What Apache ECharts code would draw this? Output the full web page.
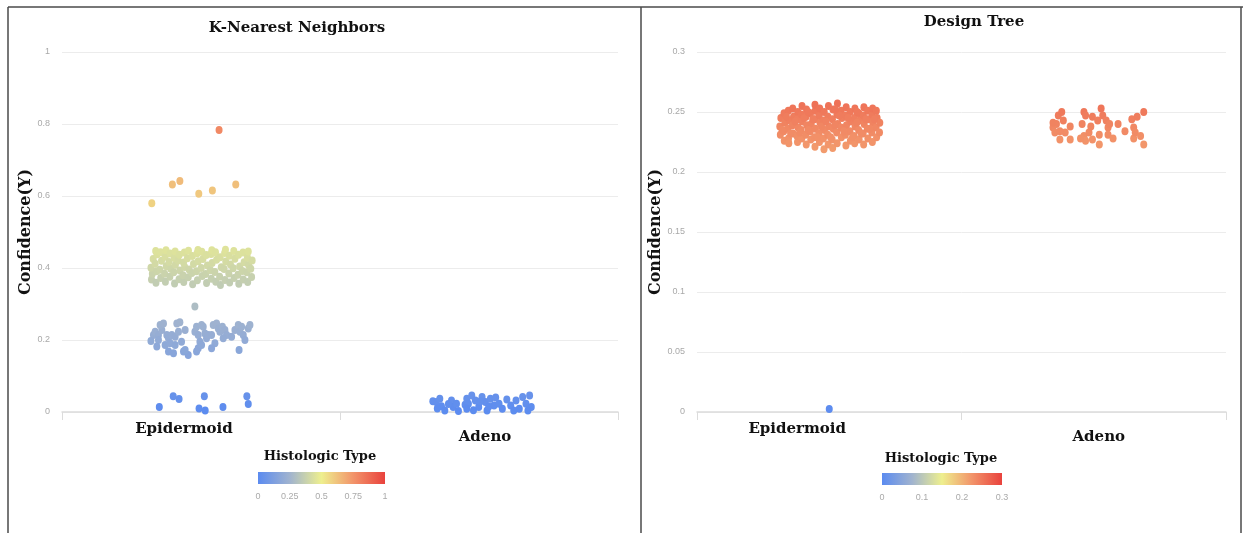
<!DOCTYPE html>
<html>
<head>
<meta charset="utf-8">
<script src="https://cdn.jsdelivr.net/npm/echarts@6/dist/echarts.min.js"></script>
<style>
  html, body { margin: 0; padding: 0; background: #fff; }
  #chart { width: 1243px; height: 533px; }
</style>
</head>
<body>
<div id="chart"></div>
<script>
const categories = ['Epidermoid', 'Adeno'];
const knnLegendTicks = [0, 0.25, 0.5, 0.75, 1];
const treeLegendTicks = [0, 0.1, 0.2, 0.3];

// Each point: [horizontal jitter inside the category band, confidence]
const knnEpidermoid = [
  // top outlier and the 0.6 group
  [0.065, 0.783],
  [-0.177, 0.580], [-0.103, 0.632], [-0.076, 0.642], [-0.008, 0.606], [0.041, 0.615], [0.125, 0.632],
  // 0.4 band
  [-0.178, 0.368], [-0.175, 0.384], [-0.180, 0.401], [-0.172, 0.425],
  [-0.162, 0.359], [-0.160, 0.391], [-0.165, 0.412], [-0.158, 0.438], [-0.163, 0.447],
  [-0.145, 0.372], [-0.148, 0.395], [-0.142, 0.420], [-0.146, 0.444],
  [-0.128, 0.362], [-0.131, 0.384], [-0.125, 0.405], [-0.129, 0.431], [-0.126, 0.449],
  [-0.112, 0.376], [-0.109, 0.398], [-0.115, 0.417], [-0.111, 0.440],
  [-0.095, 0.357], [-0.098, 0.388], [-0.092, 0.409], [-0.096, 0.428], [-0.093, 0.446],
  [-0.079, 0.369], [-0.076, 0.393], [-0.082, 0.421], [-0.078, 0.437],
  [-0.062, 0.361], [-0.065, 0.380], [-0.059, 0.403], [-0.063, 0.415], [-0.060, 0.443],
  [-0.046, 0.374], [-0.043, 0.396], [-0.049, 0.427], [-0.045, 0.448],
  [-0.030, 0.355], [-0.033, 0.386], [-0.027, 0.411], [-0.031, 0.433],
  [-0.013, 0.366], [-0.016, 0.391], [-0.010, 0.419], [-0.014, 0.441], [-0.011, 0.450],
  [0.004, 0.378], [0.001, 0.400], [0.007, 0.425], [0.003, 0.445],
  [0.020, 0.358], [0.017, 0.383], [0.023, 0.407], [0.019, 0.436],
  [0.037, 0.370], [0.034, 0.394], [0.040, 0.414], [0.036, 0.439], [0.039, 0.449],
  [0.053, 0.362], [0.050, 0.389], [0.056, 0.423], [0.052, 0.444],
  [0.070, 0.353], [0.067, 0.376], [0.073, 0.402], [0.069, 0.430],
  [0.086, 0.367], [0.083, 0.397], [0.089, 0.418], [0.085, 0.442], [0.088, 0.451],
  [0.103, 0.360], [0.100, 0.385], [0.106, 0.410], [0.102, 0.434],
  [0.119, 0.372], [0.116, 0.399], [0.122, 0.426], [0.118, 0.447],
  [0.136, 0.356], [0.133, 0.381], [0.139, 0.404], [0.135, 0.437],
  [0.152, 0.368], [0.149, 0.392], [0.155, 0.416], [0.151, 0.443],
  [0.168, 0.361], [0.165, 0.388], [0.171, 0.408], [0.167, 0.429], [0.170, 0.446],
  [0.182, 0.375], [0.179, 0.398], [0.184, 0.421],
  // 0.2 band
  [-0.022, 0.293],
  [-0.171, 0.214], [-0.180, 0.197], [-0.165, 0.223], [-0.153, 0.214], [-0.141, 0.228],
  [-0.147, 0.242], [-0.135, 0.246], [-0.123, 0.214], [-0.117, 0.205], [-0.129, 0.186],
  [-0.111, 0.191], [-0.105, 0.214], [-0.093, 0.209], [-0.087, 0.246], [-0.076, 0.249],
  [-0.081, 0.223], [-0.057, 0.228], [-0.063, 0.168], [-0.046, 0.158], [-0.057, 0.172],
  [-0.117, 0.168], [-0.099, 0.163], [-0.022, 0.223], [-0.016, 0.237], [-0.010, 0.214],
  [-0.004, 0.195], [0.002, 0.242], [0.008, 0.237], [0.014, 0.218], [0.020, 0.205],
  [0.026, 0.214], [-0.016, 0.168], [-0.010, 0.177], [0.002, 0.186], [0.038, 0.214],
  [0.044, 0.242], [0.050, 0.191], [0.056, 0.246], [0.062, 0.232], [0.068, 0.223],
  [0.077, 0.237], [0.086, 0.228], [0.092, 0.214], [0.110, 0.209], [0.122, 0.228],
  [0.134, 0.242], [0.140, 0.223], [0.146, 0.237], [0.152, 0.214], [0.158, 0.200],
  [0.170, 0.232], [0.176, 0.242], [0.137, 0.172], [0.038, 0.177], [0.080, 0.205],
  [-0.070, 0.195], [-0.153, 0.200], [-0.159, 0.182], [-0.093, 0.186],
  // near zero
  [-0.150, 0.014], [-0.100, 0.044], [-0.079, 0.036], [-0.007, 0.010], [0.012, 0.044],
  [0.015, 0.004], [0.079, 0.014], [0.165, 0.044], [0.170, 0.022]
];

const knnAdeno = [
  [-0.166, 0.030], [-0.154, 0.028], [-0.141, 0.037], [-0.135, 0.016], [-0.123, 0.004],
  [-0.150, 0.010], [-0.099, 0.032], [-0.093, 0.014], [-0.081, 0.023], [-0.074, 0.003],
  [-0.110, 0.022], [-0.050, 0.020], [-0.044, 0.037], [-0.038, 0.023], [-0.044, 0.009],
  [-0.026, 0.046], [-0.013, 0.032], [-0.001, 0.014], [0.011, 0.042], [0.023, 0.028],
  [0.029, 0.004], [0.041, 0.037], [0.054, 0.018], [0.072, 0.023], [0.084, 0.009],
  [-0.020, 0.005], [0.005, 0.030], [0.060, 0.040], [0.035, 0.015], [0.114, 0.018],
  [0.133, 0.032], [0.145, 0.009], [0.157, 0.042], [0.169, 0.023], [0.182, 0.046],
  [0.188, 0.014], [0.176, 0.004], [0.125, 0.004], [0.100, 0.035]
];

const treeEpidermoid = [
  [0.000, 0.0025],
  [-0.185, 0.231], [-0.187, 0.238], [-0.183, 0.245],
  [-0.170, 0.226], [-0.172, 0.234], [-0.168, 0.241], [-0.171, 0.249],
  [-0.154, 0.228], [-0.156, 0.236], [-0.152, 0.243], [-0.155, 0.251], [-0.153, 0.224],
  [-0.137, 0.232], [-0.139, 0.239], [-0.135, 0.246], [-0.138, 0.253],
  [-0.120, 0.225], [-0.122, 0.230], [-0.118, 0.237], [-0.121, 0.244], [-0.119, 0.250],
  [-0.104, 0.228], [-0.106, 0.235], [-0.102, 0.242], [-0.105, 0.248], [-0.103, 0.255],
  [-0.087, 0.223], [-0.089, 0.231], [-0.085, 0.239], [-0.088, 0.246], [-0.086, 0.252],
  [-0.070, 0.227], [-0.072, 0.234], [-0.068, 0.240], [-0.071, 0.249],
  [-0.054, 0.221], [-0.056, 0.229], [-0.052, 0.236], [-0.055, 0.244], [-0.053, 0.251], [-0.054, 0.256],
  [-0.037, 0.225], [-0.039, 0.232], [-0.035, 0.241], [-0.038, 0.247], [-0.036, 0.253],
  [-0.020, 0.219], [-0.022, 0.228], [-0.018, 0.235], [-0.021, 0.243], [-0.019, 0.250],
  [-0.004, 0.223], [-0.006, 0.231], [-0.002, 0.238], [-0.005, 0.246], [-0.003, 0.255],
  [0.013, 0.220], [0.011, 0.227], [0.015, 0.236], [0.012, 0.244], [0.014, 0.252],
  [0.030, 0.224], [0.028, 0.233], [0.032, 0.240], [0.029, 0.248], [0.031, 0.257],
  [0.046, 0.229], [0.044, 0.237], [0.048, 0.245], [0.045, 0.251],
  [0.063, 0.222], [0.061, 0.231], [0.065, 0.239], [0.062, 0.247], [0.064, 0.254],
  [0.080, 0.226], [0.078, 0.234], [0.082, 0.242], [0.079, 0.250],
  [0.096, 0.224], [0.094, 0.230], [0.098, 0.238], [0.095, 0.245], [0.097, 0.253],
  [0.113, 0.227], [0.111, 0.235], [0.115, 0.243], [0.112, 0.249],
  [0.130, 0.223], [0.128, 0.232], [0.132, 0.240], [0.129, 0.247], [0.131, 0.254],
  [0.146, 0.228], [0.144, 0.236], [0.148, 0.244], [0.145, 0.251],
  [0.163, 0.225], [0.161, 0.233], [0.165, 0.241], [0.162, 0.248], [0.164, 0.253],
  [0.179, 0.229], [0.177, 0.237], [0.181, 0.245], [0.178, 0.251],
  [0.190, 0.233], [0.191, 0.241],
  [-0.178, 0.235], [-0.162, 0.246], [-0.146, 0.232], [-0.129, 0.242], [-0.112, 0.233],
  [-0.096, 0.245], [-0.079, 0.235], [-0.062, 0.244], [-0.045, 0.229], [-0.029, 0.238],
  [-0.012, 0.242], [0.005, 0.229], [0.021, 0.239], [0.038, 0.247], [0.055, 0.234],
  [0.071, 0.245], [0.088, 0.229], [0.104, 0.241], [0.121, 0.232], [0.138, 0.244],
  [0.154, 0.236], [0.171, 0.244], [-0.080, 0.250], [0.023, 0.252], [0.105, 0.250]
];

const treeAdeno = [
  [-0.134, 0.247], [-0.121, 0.250], [-0.115, 0.243], [-0.141, 0.240], [-0.154, 0.237],
  [-0.147, 0.233], [-0.128, 0.227], [-0.108, 0.233], [-0.089, 0.238], [-0.089, 0.227],
  [-0.037, 0.250], [-0.031, 0.247], [-0.044, 0.240], [-0.037, 0.230], [-0.031, 0.226],
  [-0.018, 0.233], [-0.005, 0.246], [-0.011, 0.238], [0.015, 0.243], [0.021, 0.231],
  [0.021, 0.223], [0.028, 0.253], [0.034, 0.247], [0.047, 0.243], [0.054, 0.237],
  [0.054, 0.231], [0.060, 0.240], [0.073, 0.228], [0.092, 0.240], [0.118, 0.234],
  [0.144, 0.244], [0.151, 0.237], [0.151, 0.228], [0.157, 0.233], [0.164, 0.246],
  [0.177, 0.230], [0.189, 0.250], [0.189, 0.223], [-0.154, 0.241], [-0.005, 0.227],
  [-0.050, 0.228], [-0.128, 0.234]
];

// Colour ramp shared by the points and the gradient legend
const palette = ['#5b8bf0', '#a0b3cf', '#eeef8e', '#f2946a', '#e9423d'];

const serifBold = { fontFamily: 'DejaVu Serif', fontWeight: 'bold', color: '#111' };
const tickFont = { fontFamily: 'Liberation Sans Narrow, Liberation Sans', fontSize: 9, color: '#a9a9a9' };

function place(points, index) {
  return points.map(p => [index + p[0], p[1]]);
}

function categoryAxis(gridIndex, shifts) {
  return {
    type: 'category', gridIndex, data: categories,
    axisLine: { lineStyle: { color: '#dcdcdc', width: 1.5 } },
    axisTick: { show: true, length: 8, lineStyle: { color: '#dcdcdc' } },
    splitLine: { show: false },
    axisLabel: {
      margin: 10,
      formatter: v => v === categories[0] ? '{e|' + v + '}' : '{a|' + v + '}',
      rich: {
        e: Object.assign({ fontSize: 15, padding: shifts.e }, serifBold),
        a: Object.assign({ fontSize: 15, padding: shifts.a }, serifBold)
      }
    }
  };
}

function bandAxis(gridIndex) {
  return { type: 'value', gridIndex, min: -0.5, max: 1.5, show: false, splitLine: { show: false } };
}

function valueAxis(gridIndex, max, interval) {
  return {
    type: 'value', gridIndex, min: 0, max, interval,
    name: 'Confidence(Y)', nameLocation: 'middle', nameGap: 27,
    nameTextStyle: Object.assign({ fontSize: 16 }, serifBold),
    axisLine: { show: false }, axisTick: { show: false },
    axisLabel: Object.assign({ margin: 12 }, tickFont),
    splitLine: { lineStyle: { color: '#ececec', width: 1 } }
  };
}

function legend(x, y, width, ticks, max, titleX, titleY) {
  const stops = palette.map((c, i) => ({ offset: i / (palette.length - 1), color: c }));
  const els = [
    { type: 'text', x: titleX, y: titleY,
      style: { text: 'Histologic Type', fill: '#111', fontFamily: 'DejaVu Serif', fontWeight: 'bold',
        fontSize: 13, align: 'center', verticalAlign: 'middle' } },
    { type: 'rect', shape: { x, y, width, height: 12 },
      style: { fill: new echarts.graphic.LinearGradient(0, 0, 1, 0, stops) } }
  ];
  ticks.forEach(t => {
    els.push({ type: 'text', x: x + (t / max) * width, y: y + 25,
      style: { text: String(t), fill: '#aaa', fontFamily: 'Liberation Sans Narrow, Liberation Sans',
        fontSize: 9, align: 'center', verticalAlign: 'middle' } });
  });
  return els;
}

const chart = echarts.init(document.getElementById('chart'), null, { renderer: 'canvas' });

const frame = { stroke: '#4a4a4a', lineWidth: 1.5 };

chart.setOption({
  backgroundColor: '#fff',
  animation: false,
  title: [
    { text: 'K-Nearest Neighbors', left: 292, top: 16, textAlign: 'center',
      textStyle: Object.assign({ fontSize: 15 }, serifBold) },
    { text: 'Design Tree', left: 969, top: 10, textAlign: 'center',
      textStyle: Object.assign({ fontSize: 15 }, serifBold) }
  ],
  grid: [
    { left: 62, right: 625, top: 52, bottom: 121 },
    { left: 697, right: 17, top: 52, bottom: 121 }
  ],
  xAxis: [
    categoryAxis(0, { e: [0, 34, 0, 0], a: [8, 0, 0, 12] }),
    bandAxis(0),
    categoryAxis(1, { e: [0, 64, 0, 0], a: [8, 0, 0, 10] }),
    bandAxis(1)
  ],
  yAxis: [
    valueAxis(0, 1, 0.2),
    valueAxis(1, 0.3, 0.05)
  ],
  visualMap: [
    { type: 'continuous', show: false, seriesIndex: [0, 1], dimension: 1, min: 0, max: 1,
      inRange: { color: palette } },
    { type: 'continuous', show: false, seriesIndex: [2, 3], dimension: 1, min: 0, max: 0.3,
      inRange: { color: palette } }
  ],
  series: [
    { type: 'scatter', xAxisIndex: 1, yAxisIndex: 0, symbolSize: [7, 8], data: place(knnEpidermoid, 0), itemStyle: { opacity: 1 } },
    { type: 'scatter', xAxisIndex: 1, yAxisIndex: 0, symbolSize: [7, 8], data: place(knnAdeno, 1), itemStyle: { opacity: 1 } },
    { type: 'scatter', xAxisIndex: 3, yAxisIndex: 1, symbolSize: [7, 8], data: place(treeEpidermoid, 0), itemStyle: { opacity: 1 } },
    { type: 'scatter', xAxisIndex: 3, yAxisIndex: 1, symbolSize: [7, 8], data: place(treeAdeno, 1), itemStyle: { opacity: 1 } }
  ],
  graphic: [
    { type: 'line', shape: { x1: 8, y1: 7, x2: 1243, y2: 7 }, style: frame },
    { type: 'line', shape: { x1: 8, y1: 7, x2: 8, y2: 533 }, style: frame },
    { type: 'line', shape: { x1: 641, y1: 7, x2: 641, y2: 533 }, style: frame },
    { type: 'line', shape: { x1: 1241, y1: 7, x2: 1241, y2: 533 }, style: frame }
  ].concat(
    legend(258, 472, 127, knnLegendTicks, 1, 320, 457),
    legend(882, 473, 120, treeLegendTicks, 0.3, 941, 459)
  )
});
</script>
</body>
</html>
